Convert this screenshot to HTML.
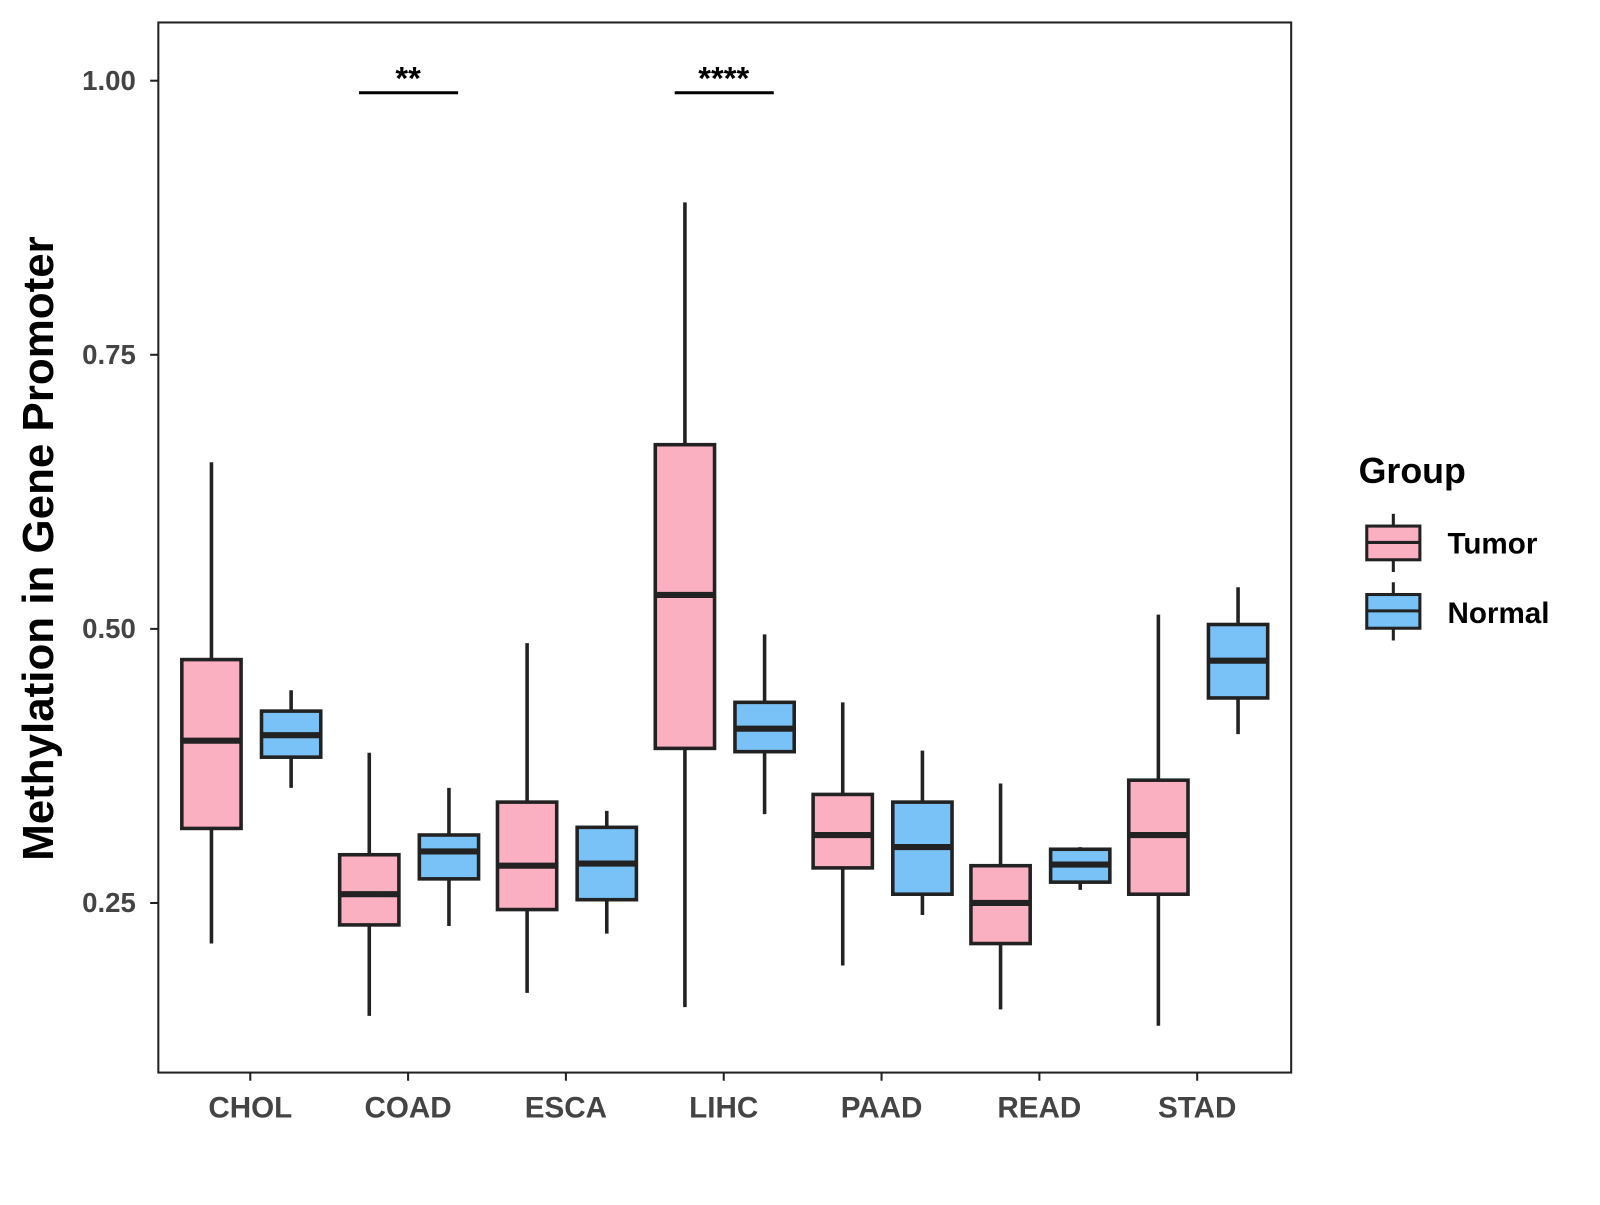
<!DOCTYPE html>
<html><head><meta charset="utf-8"><style>
body{margin:0;background:#fff}
svg text{font-family:"Liberation Sans",sans-serif;font-weight:bold}
</style></head><body>
<svg width="1600" height="1200" xmlns="http://www.w3.org/2000/svg">
<g id="chart" transform="scale(1.0215)">
<rect x="155" y="22" width="1109" height="1028" fill="#fff" stroke="#222" stroke-width="2"/>
<g id="marks"></g>
<text transform="translate(52,537) rotate(-90)" text-anchor="middle" font-size="43" fill="#000">Methylation in Gene Promoter</text>
<g>
<text x="1330" y="473" font-size="35" fill="#000">Group</text>
<line x1="1364" y1="503" x2="1364" y2="560" stroke="#222" stroke-width="3"/>
<rect x="1338" y="515" width="52" height="33" fill="#fbb0c2" stroke="#222" stroke-width="3"/>
<line x1="1338" y1="531" x2="1390" y2="531" stroke="#222" stroke-width="3"/>
<text x="1417" y="542" font-size="29" fill="#000">Tumor</text>
<line x1="1364" y1="570" x2="1364" y2="627" stroke="#222" stroke-width="3"/>
<rect x="1338" y="582" width="52" height="33" fill="#79c2f7" stroke="#222" stroke-width="3"/>
<line x1="1338" y1="598" x2="1390" y2="598" stroke="#222" stroke-width="3"/>
<text x="1417" y="610" font-size="29" fill="#000">Normal</text>
</g>
</g>
</svg>
<script>
const categories=["CHOL","COAD","ESCA","LIHC","PAAD","READ","STAD"];
// [low, q1, median, q3, high]
const tumor=[[0.213,0.318,0.398,0.472,0.652],[0.147,0.230,0.258,0.294,0.387],[0.168,0.244,0.284,0.342,0.487],[0.155,0.391,0.531,0.668,0.889],[0.193,0.282,0.312,0.349,0.433],[0.153,0.213,0.250,0.284,0.359],[0.138,0.258,0.312,0.362,0.513]];
const normal=[[0.355,0.383,0.403,0.425,0.444],[0.229,0.272,0.297,0.312,0.355],[0.222,0.253,0.286,0.319,0.334],[0.331,0.388,0.409,0.433,0.495],[0.239,0.258,0.301,0.342,0.389],[0.262,0.269,0.285,0.299,0.301],[0.404,0.437,0.471,0.504,0.538]];
const yTicks=[0.25,0.5,0.75,1.0];
const yTickLabels=["0.25","0.50","0.75","1.00"];
const sigCats=["COAD","LIHC"];
const sigLabels=["**","****"];
const sigY=[0.989,0.989];

const NS="http://www.w3.org/2000/svg";
const g=document.getElementById('marks');
function y(v){return 79+(1-v)*1073.3;}
function x(i){return 245+i*154.5;}
function mk(tag,attrs,parent){const e=document.createElementNS(NS,tag);for(const k in attrs)e.setAttribute(k,attrs[k]);(parent||g).appendChild(e);return e;}
yTicks.forEach((t,i)=>{
  const l=mk('line',{x1:147,x2:155,y1:y(t),y2:y(t),stroke:'#222','stroke-width':2});
  
  
  const tx=mk('text',{x:133,y:y(t)+9,'text-anchor':'end','font-size':27,fill:'#444'});
  tx.textContent=yTickLabels[i];
  
  
});
categories.forEach((c,i)=>{
  const l=mk('line',{x1:x(i),x2:x(i),y1:1050,y2:1058,stroke:'#222','stroke-width':2});
  
  
  const tx=mk('text',{x:x(i),y:1094,'text-anchor':'middle','font-size':29,fill:'#444'});
  tx.textContent=c;
  
  
});
function box(cx,d,fill,name){
  const w=58;
  const gr=mk('g',{});
  
  
  mk('line',{x1:cx,x2:cx,y1:y(d[0]),y2:y(d[4]),stroke:'#222','stroke-width':3.5},gr);
  mk('rect',{x:cx-w/2,y:y(d[3]),width:w,height:y(d[1])-y(d[3]),fill:fill,stroke:'#222','stroke-width':3.5},gr);
  mk('line',{x1:cx-w/2,x2:cx+w/2,y1:y(d[2]),y2:y(d[2]),stroke:'#222','stroke-width':6},gr);
}
categories.forEach((c,i)=>{
  box(x(i)-38,tumor[i],'#fbb0c2','box-tumor-'+c.toLowerCase());
  box(x(i)+40,normal[i],'#79c2f7','box-normal-'+c.toLowerCase());
});
sigCats.forEach((c,k)=>{
  const i=categories.indexOf(c);
  const l=mk('line',{x1:x(i)-48,x2:x(i)+49,y1:y(sigY[k]),y2:y(sigY[k]),stroke:'#000','stroke-width':3});
  
  
  const t=mk('text',{x:x(i),y:y(sigY[k])-3,'text-anchor':'middle','font-size':32,fill:'#000'});
  t.textContent=sigLabels[k];
  
  
});
</script>
</body></html>
